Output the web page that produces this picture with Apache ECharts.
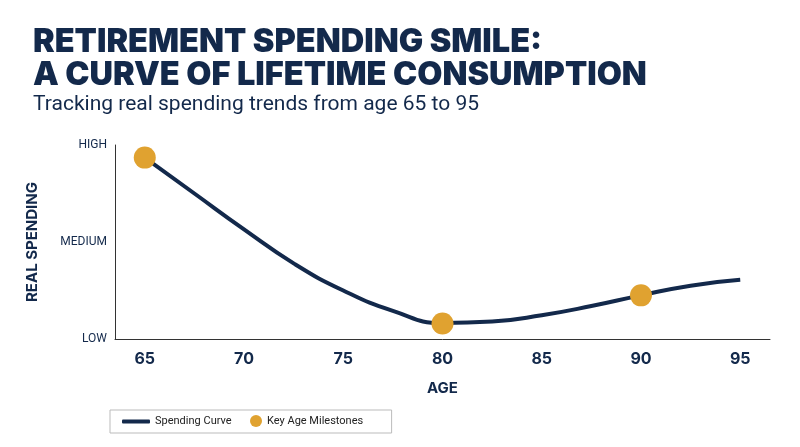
<!DOCTYPE html>
<html><head><meta charset="utf-8">
<script src="https://cdn.jsdelivr.net/npm/echarts@6/dist/echarts.min.js"></script>
<style>html,body{margin:0;padding:0;background:#fff}#c{width:800px;height:447px}</style>
</head><body><div id="c"></div>
<script>
const ages=[65,67.5,70,72.5,75,77.5,80,82.5,85,87.5,90,92.5,95];
const spending=[1.87,1.5,1.13,0.78,0.5,0.29,0.165,0.18,0.245,0.34,0.45,0.55,0.61];
const tickAges=[65,70,75,80,85,90,95];
const milestoneAges=[65,80,90];
const milestoneVals=[1.87,0.16,0.45];
const yLabels={0:'LOW',1:'MEDIUM',2:'HIGH'};
const navy='#13294b', gold='#e0a230';
const chart=echarts.init(document.getElementById('c'));
chart.setOption({
 animation:false,
 title:[{text:'RETIREMENT SPENDING SMILE:\nA CURVE OF LIFETIME CONSUMPTION',left:28,top:21,
  textStyle:{fontFamily:'Inter',fontWeight:900,fontSize:32.5,color:navy,lineHeight:33}},
  {text:'Tracking real spending trends from age 65 to 95',left:28,top:89,
  textStyle:{fontFamily:'Roboto',fontWeight:'normal',fontSize:21,color:navy}}],
 grid:{left:115,right:30,top:145,bottom:108},
 xAxis:{type:'value',min:63.5,max:96.5,name:'AGE',nameLocation:'middle',nameGap:42,
  nameTextStyle:{fontFamily:'Inter',fontWeight:'bold',fontSize:15,color:navy},
  axisLine:{lineStyle:{color:'#333'}},axisTick:{show:false},splitLine:{show:false},
  axisLabel:{customValues:tickAges,margin:12,fontFamily:'Inter',fontWeight:'bold',fontSize:16,color:navy}},
 yAxis:{type:'value',min:0,max:2,interval:1,name:'REAL SPENDING',nameLocation:'middle',nameGap:75,
  nameTextStyle:{fontFamily:'Inter',fontWeight:'bold',fontSize:15,color:navy},
  axisLine:{show:true,lineStyle:{color:'#333'}},axisTick:{show:false},splitLine:{show:false},
  axisLabel:{fontFamily:'Roboto',fontSize:12,color:navy,formatter:v=>yLabels[v]||''}},
 legend:[{bottom:14,left:110,padding:[6,160,6,12],borderColor:'#bbb',borderWidth:1,
  textStyle:{fontFamily:'Roboto',fontSize:11,color:'#222'},
  data:[{name:'Spending Curve',icon:'roundRect'}],itemWidth:28,itemHeight:4},
  {bottom:15,left:245,textStyle:{fontFamily:'Roboto',fontSize:11,color:'#222'},
  data:[{name:'Key Age Milestones',icon:'circle'}],itemWidth:12,itemHeight:12}],
 series:[
  {name:'Spending Curve',type:'line',smooth:true,symbol:'none',data:ages.map((a,i)=>[a,spending[i]]),
   lineStyle:{color:navy,width:4},itemStyle:{color:navy}},
  {name:'Key Age Milestones',type:'scatter',symbolSize:22,data:milestoneAges.map((a,i)=>[a,milestoneVals[i]]),
   itemStyle:{color:gold,opacity:1},z:5}
 ]
});
</script></body></html>
